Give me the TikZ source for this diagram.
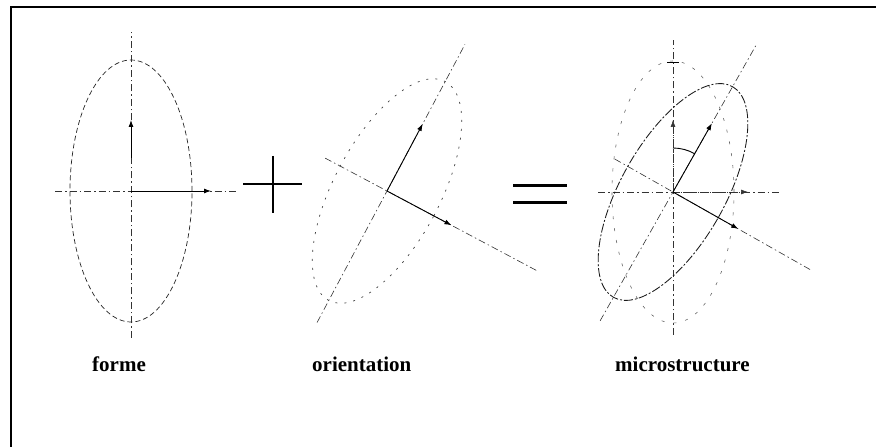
\documentclass[tikz,border=0pt]{standalone}
\usepackage{fontspec}
\setmainfont{Liberation Serif}
\usetikzlibrary{arrows.meta}
\begin{document}
\begin{tikzpicture}[x=1pt,y=1pt,
  axisline/.style={line width=0.6pt, dash pattern=on 7pt off 3pt on 1.5pt off 3pt, black!80},
  shapeline/.style={line width=0.7pt, dash pattern=on 5pt off 3pt, black!85},
  sparseline/.style={line width=0.7pt, dash pattern=on 2pt off 7pt, black!75},
  faintline/.style={line width=0.6pt, dash pattern=on 3pt off 9pt, black!60},
  mixline/.style={line width=0.85pt, dash pattern=on 9pt off 2pt on 2pt off 2pt, black!90},
  tipped/.style={-{Latex[length=7pt,width=5pt]}},
  vecline/.style={line width=0.9pt, tipped},
  opsign/.style={line width=2pt},
  framestyle/.style={line width=2pt},
  caption/.style={anchor=base west, inner sep=0pt, font=\bfseries\fontsize{21}{24}\selectfont}
]
\useasboundingbox (0,0) rectangle (876,447);

% frame
\coordinate (fb) at (11,0);
\coordinate (fc) at (11,440);
\coordinate (fr) at (876,440);
\draw[framestyle] (fb) -- (fc) -- (fr);

% ---------- panel 1 : forme ----------
\coordinate (c1) at (131,256);
\coordinate (v1t) at (131,415);
\coordinate (v1b) at (131,109);
\coordinate (h1l) at (55,256);
\coordinate (h1r) at (238,256);
\coordinate (a1v0) at (131,289);
\coordinate (a1v) at (131,327);
\coordinate (a1h) at (211,256);
\draw[axisline] (v1b) -- (v1t);
\draw[axisline] (h1l) -- (h1r);
\draw[shapeline] (c1) ellipse [x radius=61, y radius=131];
\draw[vecline] (a1v0) -- (a1v);
\draw[vecline] (c1) -- (a1h);

% plus sign
\coordinate (pl) at (243,263);
\coordinate (pr) at (302,263);
\coordinate (pt) at (273,291);
\coordinate (pb) at (273,234);
\draw[opsign] (pl) -- (pr);
\draw[opsign] (pt) -- (pb);

% ---------- panel 2 : orientation ----------
\begin{scope}[shift={(387,256)}, rotate=-28]
  \coordinate (c2) at (0,0);
  \coordinate (m2t) at (0,166);
  \coordinate (m2b) at (0,-149);
  \coordinate (n2l) at (-70,0);
  \coordinate (n2r) at (171,0);
  \coordinate (a2m) at (0,76);
  \coordinate (a2n) at (73,0);
  \draw[axisline] (m2b) -- (m2t);
  \draw[axisline] (n2l) -- (n2r);
  \draw[sparseline] (c2) ellipse [x radius=53, y radius=124];
  \draw[vecline] (c2) -- (a2m);
  \draw[vecline] (c2) -- (a2n);
\end{scope}

% equals sign
\coordinate (e1l) at (513,261);
\coordinate (e1r) at (567,261);
\coordinate (e2l) at (513,244);
\coordinate (e2r) at (567,244);
\draw[opsign, line width=3pt] (e1l) -- (e1r);
\draw[opsign, line width=3pt] (e2l) -- (e2r);

% ---------- panel 3 : microstructure ----------
\coordinate (c3) at (673,255);
\coordinate (v3t) at (673,407);
\coordinate (v3b) at (673,112);
\coordinate (h3l) at (598,255);
\coordinate (h3r) at (780,255);
\coordinate (a3v) at (673,327);
\coordinate (a3h) at (748,255);
\coordinate (tkl) at (667,385);
\coordinate (tkr) at (679,385);
\draw[axisline] (v3b) -- (v3t);
\draw[axisline] (h3l) -- (h3r);
\draw[faintline] (c3) ellipse [x radius=61, y radius=131];
\draw[line width=0.8pt] (tkl) -- (tkr);
\draw[axisline, tipped] (c3) -- (a3v);
\draw[axisline, tipped] (c3) -- (a3h);
\begin{scope}[shift={(673,255)}, rotate=-29.5]
  \coordinate (c3r) at (0,0);
  \coordinate (m3t) at (0,169);
  \coordinate (m3b) at (0,-148);
  \coordinate (n3l) at (-67,0);
  \coordinate (n3r) at (160,0);
  \coordinate (a3m) at (0,79);
  \coordinate (a3n) at (75,0);
  \draw[axisline] (m3b) -- (m3t);
  \draw[axisline] (n3l) -- (n3r);
  \draw[mixline] (c3r) ellipse [x radius=52, y radius=121];
  \draw[vecline] (c3r) -- (a3m);
  \draw[vecline] (c3r) -- (a3n);
\end{scope}
\coordinate (arcs) at (673,299);
\draw[line width=0.9pt] (arcs) arc [start angle=90, end angle=60.5, radius=44];

% captions
\node[caption] (t1) at (92,75) {forme};
\node[caption] (t2) at (312,75) {orientation};
\node[caption] (t3) at (615,75) {microstructure};
\end{tikzpicture}
\end{document}
